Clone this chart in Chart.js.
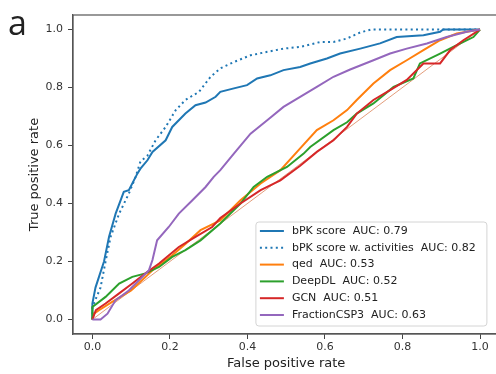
<!DOCTYPE html>
<html>
<head>
<meta charset="utf-8">
<script src="https://cdn.jsdelivr.net/npm/chart.js@4.4.1/dist/chart.umd.min.js"></script>
<style>
  html, body { margin: 0; padding: 0; background: #fff; overflow: hidden; width: 496px; height: 374px; }
  #wrap { position: relative; width: 510px; height: 374px; }
  #panel { position: absolute; left: 8px; top: -1px; font: 34px "Open Sans", sans-serif; color: #222; }
</style>
</head>
<body>
<div id="wrap">
  <canvas id="roc" width="510" height="374"></canvas>
  <div id="panel">a</div>
</div>
<script>
// ROC curves
const xTicks = [0, 0.2, 0.4, 0.6, 0.8, 1.0];
const yTicks = [0, 0.2, 0.4, 0.6, 0.8, 1.0];

const labels = [
  'bPK score  AUC: 0.79',
  'bPK score w. activities  AUC: 0.82',
  'qed  AUC: 0.53',
  'DeepDL  AUC: 0.52',
  'GCN  AUC: 0.51',
  'FractionCSP3  AUC: 0.63'
];
const colors = ['#1f77b4', '#1f77b4', '#ff7f0e', '#2ca02c', '#d62728', '#9467bd'];

const bpkFpr = [0, 0, 0.008, 0.017, 0.03, 0.043, 0.06, 0.081, 0.094, 0.116, 0.124, 0.142, 0.155, 0.189, 0.206, 0.24, 0.266, 0.292, 0.318, 0.33, 0.365, 0.399, 0.425, 0.459, 0.493, 0.536, 0.562, 0.605, 0.639, 0.691, 0.742, 0.785, 0.854, 0.897, 0.905, 1.0];
const bpkTpr = [0, 0.055, 0.11, 0.147, 0.2, 0.285, 0.365, 0.44, 0.446, 0.503, 0.52, 0.549, 0.578, 0.618, 0.664, 0.71, 0.739, 0.748, 0.768, 0.785, 0.797, 0.808, 0.831, 0.842, 0.86, 0.871, 0.883, 0.9, 0.917, 0.934, 0.952, 0.974, 0.98, 0.992, 1.0, 1.0];

const actFpr = [0, 0, 0.021, 0.034, 0.047, 0.069, 0.094, 0.111, 0.124, 0.142, 0.163, 0.189, 0.215, 0.24, 0.275, 0.305, 0.33, 0.365, 0.408, 0.451, 0.493, 0.536, 0.588, 0.622, 0.657, 0.691, 0.72, 1.0];
const actTpr = [0, 0.043, 0.11, 0.2, 0.285, 0.365, 0.434, 0.49, 0.545, 0.565, 0.618, 0.664, 0.722, 0.757, 0.785, 0.837, 0.866, 0.888, 0.911, 0.923, 0.934, 0.94, 0.957, 0.957, 0.969, 0.99, 1.0, 1.0];

const qedFpr = [0, 0.004, 0.017, 0.05, 0.1, 0.155, 0.2, 0.24, 0.279, 0.33, 0.382, 0.434, 0.485, 0.536, 0.579, 0.622, 0.657, 0.682, 0.725, 0.768, 0.811, 0.854, 0.897, 0.94, 1.0];
const qedTpr = [0, 0.02, 0.032, 0.06, 0.1, 0.17, 0.215, 0.26, 0.308, 0.342, 0.411, 0.469, 0.515, 0.59, 0.653, 0.687, 0.722, 0.757, 0.814, 0.86, 0.894, 0.929, 0.963, 0.986, 1.0];

const deepFpr = [0, 0, 0.034, 0.069, 0.103, 0.137, 0.172, 0.206, 0.24, 0.279, 0.33, 0.382, 0.416, 0.451, 0.502, 0.545, 0.562, 0.622, 0.657, 0.682, 0.725, 0.777, 0.828, 0.845, 0.897, 0.931, 0.983, 1.0];
const deepTpr = [0, 0.043, 0.078, 0.124, 0.147, 0.159, 0.181, 0.216, 0.239, 0.273, 0.331, 0.4, 0.457, 0.492, 0.526, 0.572, 0.595, 0.653, 0.68, 0.71, 0.745, 0.802, 0.831, 0.883, 0.917, 0.94, 0.974, 1.0];

const gcnFpr = [0, 0.009, 0.034, 0.069, 0.103, 0.137, 0.172, 0.223, 0.266, 0.309, 0.33, 0.382, 0.434, 0.485, 0.536, 0.579, 0.622, 0.657, 0.682, 0.725, 0.768, 0.811, 0.854, 0.897, 0.923, 0.957, 1.0];
const gcnTpr = [0, 0.032, 0.055, 0.09, 0.124, 0.159, 0.193, 0.25, 0.285, 0.319, 0.35, 0.4, 0.446, 0.48, 0.53, 0.578, 0.618, 0.664, 0.71, 0.757, 0.791, 0.826, 0.883, 0.883, 0.929, 0.963, 1.0];

const csp3Fpr = [0, 0.021, 0.039, 0.06, 0.094, 0.129, 0.146, 0.155, 0.167, 0.197, 0.223, 0.258, 0.292, 0.313, 0.33, 0.365, 0.408, 0.451, 0.493, 0.536, 0.579, 0.622, 0.665, 0.725, 0.768, 0.811, 0.863, 0.914, 0.966, 1.0];
const csp3Tpr = [0, 0, 0.02, 0.067, 0.1, 0.147, 0.17, 0.205, 0.273, 0.319, 0.365, 0.411, 0.457, 0.492, 0.515, 0.572, 0.641, 0.687, 0.733, 0.768, 0.802, 0.837, 0.862, 0.894, 0.917, 0.934, 0.952, 0.974, 0.992, 1.0];

const chanceFpr = [0, 1];
const chanceTpr = [0, 1];

const series = [
  [bpkFpr, bpkTpr], [actFpr, actTpr], [qedFpr, qedTpr],
  [deepFpr, deepTpr], [gcnFpr, gcnTpr], [csp3Fpr, csp3Tpr]
];
const pts = (xs, ys) => xs.map((x, i) => ({ x, y: ys[i] }));

const datasets = series.map(([xs, ys], i) => ({
  label: labels[i],
  data: pts(xs, ys),
  borderColor: colors[i],
  borderWidth: 2,
  borderDash: i === 1 ? [2, 3.3] : [],
  borderCapStyle: 'butt',
  pointRadius: 0,
  tension: 0,
  order: 10 - i
}));
// thin diagonal reference line, no legend entry
datasets.push({
  label: '',
  data: pts(chanceFpr, chanceTpr),
  borderColor: 'rgba(222,140,100,0.85)',
  borderWidth: 1,
  pointRadius: 0,
  order: 20
});

// full box around the axes (matplotlib style spines)
const frame = {
  id: 'frame',
  afterDatasetsDraw(chart) {
    const { ctx, chartArea: a } = chart;
    ctx.save();
    ctx.strokeStyle = '#555';
    ctx.lineWidth = 1.2;
    ctx.strokeRect(a.left, a.top, a.right - a.left, a.bottom - a.top);
    ctx.restore();
  }
};

// legend in the lower right of the plot
const innerLegend = {
  id: 'innerLegend',
  afterDraw(chart) {
    const { ctx, chartArea: a } = chart;
    const right = a.right - 12.5, bottom = a.bottom - 8;
    const w = 231, h = 104;
    const left = right - w, top = bottom - h;
    ctx.save();
    ctx.beginPath();
    ctx.roundRect(left, top, w, h, 3);
    ctx.fillStyle = 'rgba(255,255,255,0.85)';
    ctx.fill();
    ctx.strokeStyle = '#d4d4d4';
    ctx.lineWidth = 1;
    ctx.stroke();
    ctx.font = '11px "DejaVu Sans"';
    ctx.textBaseline = 'middle';
    labels.forEach((lab, i) => {
      const y = top + 9 + i * 16.8;
      ctx.beginPath();
      ctx.setLineDash(i === 1 ? [2, 3.3] : []);
      ctx.strokeStyle = colors[i];
      ctx.lineWidth = 2;
      ctx.moveTo(left + 4, y);
      ctx.lineTo(left + 28, y);
      ctx.stroke();
      ctx.setLineDash([]);
      ctx.fillStyle = '#222';
      ctx.fillText(lab, left + 36, y);
    });
    ctx.restore();
  }
};

const tickFont = { family: 'DejaVu Sans', size: 11 };
const titleFont = { family: 'DejaVu Sans', size: 13 };

new Chart(document.getElementById('roc'), {
  type: 'line',
  data: { datasets },
  plugins: [frame, innerLegend],
  options: {
    responsive: false,
    animation: false,
    devicePixelRatio: 1,
    layout: { padding: { top: 15, right: 10.6, left: 0, bottom: 0 } },
    plugins: { legend: { display: false }, tooltip: { enabled: false } },
    scales: {
      x: {
        type: 'linear',
        min: -0.05,
        max: 1.05,
        afterBuildTicks: s => { s.ticks = xTicks.map(v => ({ value: v })); },
        afterFit: s => { s.height = 40; },
        grid: { drawOnChartArea: false, tickLength: 5, color: '#444' },
        border: { color: '#555', width: 1.2 },
        ticks: { font: tickFont, color: '#333', padding: 2, maxRotation: 0, callback: v => v.toFixed(1) },
        title: { display: true, text: 'False positive rate', font: titleFont, color: '#222', padding: { top: 0, bottom: 3 } }
      },
      y: {
        type: 'linear',
        min: -0.05,
        max: 1.05,
        afterBuildTicks: s => { s.ticks = yTicks.map(v => ({ value: v })); },
        afterFit: s => { s.width = 73; },
        grid: { drawOnChartArea: false, tickLength: 5, color: '#444' },
        border: { color: '#555', width: 1.2 },
        ticks: { font: tickFont, color: '#333', padding: 5, callback: v => v.toFixed(1) },
        title: { display: true, text: 'True positive rate', font: titleFont, color: '#222', padding: { top: 27, bottom: 0 } }
      }
    }
  }
});
</script>
</body>
</html>
